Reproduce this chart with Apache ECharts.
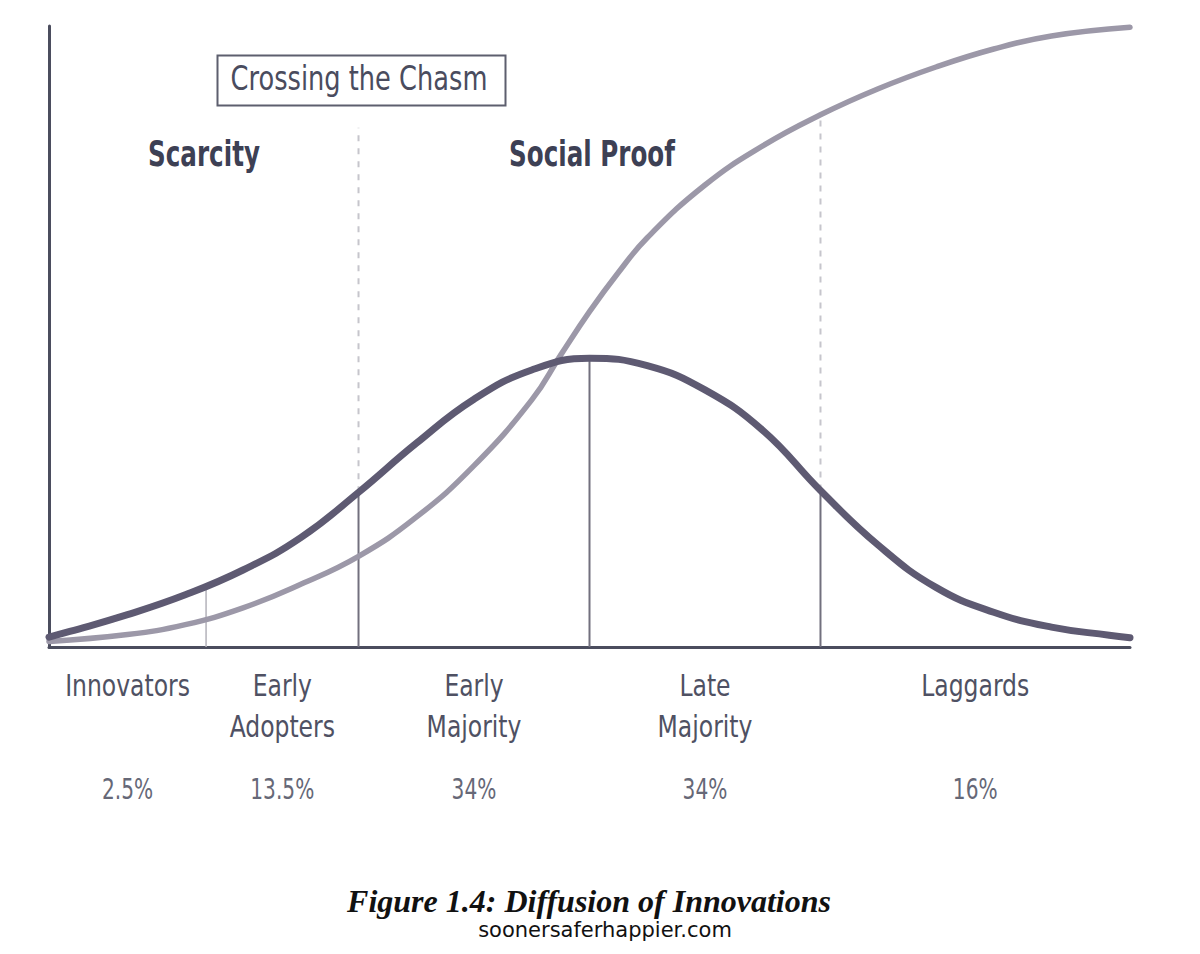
<!DOCTYPE html>
<html>
<head>
<meta charset="utf-8">
<script src="https://cdn.jsdelivr.net/npm/echarts@6/dist/echarts.min.js"></script>
<style>
  html, body { margin: 0; padding: 0; background: #ffffff; }
  #chart { width: 1200px; height: 954px; }
</style>
</head>
<body>
<div id="chart"></div>
<script>
// x in standard deviations from the mean, y in % of plot height
const bellCurve = [
  [-2.34, 1.6], [-2.25, 2.5], [-2.0, 5.2], [-1.75, 8.4], [-1.5, 12.4], [-1.25, 17.6],
  [-1.0, 24.9], [-0.75, 32.8], [-0.5, 39.9], [-0.25, 44.6], [0, 46.5],
  [0.25, 45.3], [0.5, 41.4], [0.75, 34.9], [1.0, 25.2], [1.25, 16.4],
  [1.5, 9.6], [1.75, 5.6], [2.0, 3.2], [2.25, 1.9], [2.34, 1.5]
];
const adoptionCurve = [
  [-2.34, 0.9], [-2.0, 2.0], [-1.75, 3.6], [-1.5, 6.3], [-1.25, 10.1], [-1.0, 14.6],
  [-0.75, 20.9], [-0.5, 29.2], [-0.25, 39.8], [-0.125, 47.0], [0, 54.0],
  [0.125, 60.3], [0.25, 65.9], [0.5, 74.4], [0.75, 80.7], [1.0, 85.7],
  [1.25, 89.9], [1.5, 93.4], [1.75, 96.3], [2.0, 98.4], [2.34, 99.8]
];
const segmentBounds = [-2.34, -1.66, -1.0, 0, 1.0, 2.34];
const segmentNames = ['Innovators', 'Early\nAdopters', 'Early\nMajority', 'Late\nMajority', 'Laggards'];
const segmentShares = ['2.5%', '13.5%', '34%', '34%', '16%'];
const dividerX = [-1.66, -1.0, 0, 1.0];
const dividerTop = [9.6, 24.9, 46.5, 25.2];
const chasmX = [-1.0, 1.0];
const chasmBase = [24.9, 25.2];
const chasmTop = [83.6, 85.2];
const headings = ['Scarcity', 'Social Proof'];
const boxTitle = 'Crossing the Chasm';
const caption = 'Figure 1.4: Diffusion of Innovations';
const source = 'soonersaferhappier.com';

const condFont = "'DejaVu Sans Condensed', 'Roboto', sans-serif";

const chart = echarts.init(document.getElementById('chart'), null, { renderer: 'svg' });

const dividerSeries = dividerX.map((x, i) => ({
  type: 'line',
  data: [[x, 0], [x, dividerTop[i]]],
  symbol: 'none', silent: true, clip: false, z: 2,
  lineStyle: i === 0 ? { color: '#b3b2ba', width: 1.5 } : { color: '#72707e', width: 2 }
}));
const chasmSeries = chasmX.map((x, i) => ({
  type: 'line',
  data: [[x, chasmBase[i]], [x, chasmTop[i]]],
  symbol: 'none', silent: true, clip: false, z: 1,
  lineStyle: { color: '#c6c5cc', width: 2, type: [6, 7] }
}));

chart.setOption({
  animation: false,
  backgroundColor: '#ffffff',
  grid: { left: 49, right: 70, top: 26, bottom: 307, containLabel: false },
  xAxis: {
    type: 'value', min: -2.34, max: 2.34,
    axisLine: { show: true, onZero: false, lineStyle: { color: '#4b4d5e', width: 3 } },
    axisTick: { show: false }, axisLabel: { show: false }, splitLine: { show: false }
  },
  yAxis: {
    type: 'value', min: 0, max: 100,
    axisLine: { show: true, onZero: false, lineStyle: { color: '#4b4d5e', width: 3 } },
    axisTick: { show: false }, axisLabel: { show: false }, splitLine: { show: false }
  },
  series: [
    ...chasmSeries,
    ...dividerSeries,
    {
      type: 'line', name: 'Adoption', data: adoptionCurve, smooth: 0.45,
      symbol: 'none', clip: false, z: 3, silent: true,
      lineStyle: { color: '#9c98a8', width: 5.5, cap: 'round' }
    },
    {
      type: 'line', name: 'Adopters', data: bellCurve, smooth: 0.45,
      symbol: 'none', clip: false, z: 4, silent: true,
      lineStyle: { color: '#5e5a72', width: 7, cap: 'round' }
    }
  ]
});

// category labels positioned from the data scale
const graphics = [];
segmentNames.forEach((name, i) => {
  const mid = (segmentBounds[i] + segmentBounds[i + 1]) / 2;
  const p = chart.convertToPixel({ xAxisIndex: 0, yAxisIndex: 0 }, [mid, 0]);
  name.split('\n').forEach((line, k) => {
    graphics.push({
      type: 'text', x: p[0], y: p[1] + 39 + k * 41, scaleX: 0.87, silent: true,
      style: { text: line, font: "30px " + condFont, fill: '#4f5163', textAlign: 'center', textVerticalAlign: 'middle' }
    });
  });
  graphics.push({
    type: 'text', x: p[0], y: p[1] + 142, scaleX: 0.8, silent: true,
    style: { text: segmentShares[i], font: "28px " + condFont, fill: '#666877', textAlign: 'center', textVerticalAlign: 'middle' }
  });
});

graphics.push(
  { type: 'rect', left: 215, top: 53, shape: { width: 288, height: 50 }, silent: true,
    style: { fill: 'none', stroke: '#5d5f6e', lineWidth: 2 } },
  { type: 'text', x: 359, y: 78, scaleX: 0.84, silent: true,
    style: { text: boxTitle, font: "34px " + condFont, fill: '#4a4c5e', textAlign: 'center', textVerticalAlign: 'middle' } },
  { type: 'text', x: 204, y: 154, scaleX: 0.76, silent: true,
    style: { text: headings[0], font: "bold 36px " + condFont, fill: '#3d4054', textAlign: 'center', textVerticalAlign: 'middle' } },
  { type: 'text', x: 592, y: 154, scaleX: 0.76, silent: true,
    style: { text: headings[1], font: "bold 36px " + condFont, fill: '#3d4054', textAlign: 'center', textVerticalAlign: 'middle' } },
  { type: 'text', x: 589, y: 901, silent: true,
    style: { text: caption, font: "italic bold 32px 'Liberation Serif', 'DejaVu Serif', serif", fill: '#111111', textAlign: 'center', textVerticalAlign: 'middle' } },
  { type: 'text', x: 605, y: 930, silent: true,
    style: { text: source, font: "21px 'DejaVu Sans', sans-serif", fill: '#111111', textAlign: 'center', textVerticalAlign: 'middle' } }
);

chart.setOption({ graphic: graphics });
</script>
</body>
</html>
